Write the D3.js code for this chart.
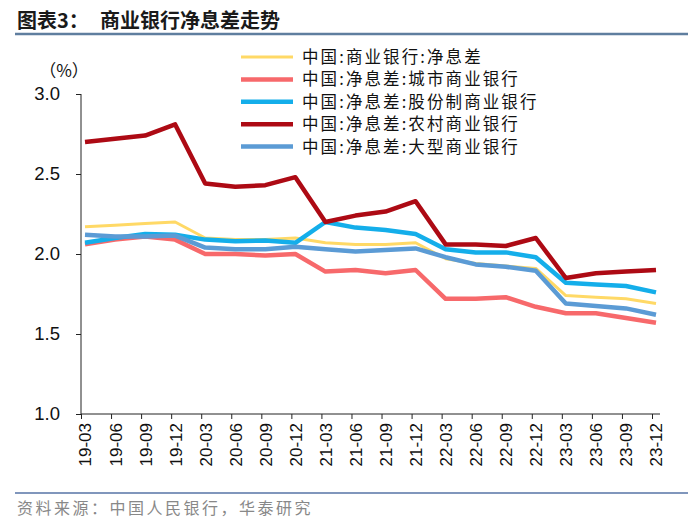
<!DOCTYPE html>
<html><head><meta charset="utf-8">
<script src="https://cdn.jsdelivr.net/npm/d3@7/dist/d3.min.js"></script>
<style>
html,body{margin:0;padding:0;background:#fff;}
svg{display:block;}
</style></head>
<body>
<svg id="chart" width="700" height="526"></svg>
<script>
const categories = ["19-03","19-06","19-09","19-12","20-03","20-06","20-09","20-12","21-03","21-06","21-09","21-12","22-03","22-06","22-09","22-12","23-03","23-06","23-09","23-12"];
const seriesNames = ["中国:商业银行:净息差","中国:净息差:城市商业银行","中国:净息差:股份制商业银行","中国:净息差:农村商业银行","中国:净息差:大型商业银行"];
const nimAll     = [2.17,2.18,2.19,2.20,2.10,2.09,2.09,2.10,2.07,2.06,2.06,2.07,1.97,1.94,1.925,1.91,1.74,1.73,1.72,1.69];
const nimCity    = [2.06,2.09,2.11,2.09,2.00,2.00,1.99,2.00,1.89,1.90,1.88,1.90,1.72,1.72,1.73,1.67,1.63,1.63,1.60,1.57];
const nimJoint   = [2.07,2.10,2.125,2.12,2.09,2.08,2.085,2.07,2.20,2.165,2.15,2.125,2.03,2.01,2.01,1.98,1.82,1.81,1.80,1.76];
const nimRural   = [2.70,2.72,2.74,2.81,2.44,2.42,2.43,2.48,2.20,2.24,2.265,2.33,2.06,2.06,2.05,2.10,1.85,1.88,1.89,1.90];
const nimLarge   = [2.12,2.11,2.11,2.115,2.04,2.03,2.03,2.045,2.03,2.015,2.025,2.035,1.98,1.935,1.92,1.895,1.69,1.675,1.66,1.62];
const yTicks = [1.0,1.5,2.0,2.5,3.0];

const seriesValues = [nimAll, nimCity, nimJoint, nimRural, nimLarge];
const colors = ["#FFD966","#F7696B","#14AEEA","#AD0A14","#5B9BD5"];
const widths = [3, 4.5, 4.5, 4.5, 4.5];

const svg = d3.select("#chart");
const axisFont = "'Liberation Sans', Arial, sans-serif";
const cjkFont = "'Noto Sans CJK SC', sans-serif";

// Title
svg.append("text").attr("x",17).attr("y",28)
  .attr("font-family",cjkFont).attr("font-weight",700).attr("font-size",20).attr("fill","#1a1a1a")
  .text("图表3：");
svg.append("text").attr("x",100).attr("y",28)
  .attr("font-family",cjkFont).attr("font-weight",700).attr("font-size",20).attr("fill","#1a1a1a")
  .text("商业银行净息差走势");
svg.append("line").attr("x1",15).attr("x2",688).attr("y1",34).attr("y2",34)
  .attr("stroke","#5f7e9f").attr("stroke-width",2.5);

// Footer
svg.append("line").attr("x1",15).attr("x2",688).attr("y1",493).attr("y2",493)
  .attr("stroke","#5673a6").attr("stroke-width",1.5);
svg.append("text").attr("x",17).attr("y",514)
  .attr("font-family",cjkFont).attr("font-size",16).attr("letter-spacing",2.5).attr("fill","#888")
  .text("资料来源：中国人民银行，华泰研究");

// Scales
const x = d3.scalePoint().domain(categories).range([85,656]);
const y = d3.scaleLinear().domain([1.0,3.0]).range([414,94]);

// Y axis
const yAxis = svg.append("g").attr("transform","translate(81,0)")
  .call(d3.axisLeft(y).tickValues(yTicks).tickFormat(d3.format(".1f")).tickSize(5).tickPadding(4));
yAxis.select(".domain").attr("stroke","#222").attr("d","M0,94V414");
yAxis.selectAll(".tick line").attr("stroke","#222");
yAxis.selectAll(".tick text").attr("font-family",axisFont).attr("font-size",18.5).attr("fill","#111").attr("x",-21);

svg.append("text").attr("x",64).attr("y",77).attr("text-anchor","middle")
  .attr("font-family",cjkFont).attr("font-size",17).attr("fill","#111").text("（%）");

// X axis
const xAxis = svg.append("g").attr("transform","translate(0,414)")
  .call(d3.axisBottom(x).tickSize(5).tickSizeOuter(0));
xAxis.select(".domain").attr("stroke","#222").attr("d","M81,0H660");
xAxis.selectAll(".tick line").attr("stroke","#222").attr("transform","translate(-4,0)");
xAxis.selectAll(".tick text")
  .attr("font-family",axisFont).attr("font-size",17).attr("fill","#111")
  .attr("transform","rotate(-90)")
  .attr("text-anchor","end").attr("dy","0.35em").attr("x",-9).attr("y",0);

// Lines
const line = d3.line().x((d,i)=>x(categories[i])).y(d=>y(d));
seriesValues.forEach((vals,k)=>{
  svg.append("path").datum(vals).attr("d",line)
    .attr("fill","none").attr("stroke",colors[k]).attr("stroke-width",widths[k])
    .attr("stroke-linejoin","round");
});

// Legend
const lg = svg.append("g");
seriesNames.forEach((name,k)=>{
  const yy = 57 + k*22.4;
  lg.append("line").attr("x1",241).attr("x2",293).attr("y1",yy).attr("y2",yy)
    .attr("stroke",colors[k]).attr("stroke-width",widths[k]);
  lg.append("text").attr("x",302).attr("y",yy).attr("dy","0.36em")
    .attr("font-family",cjkFont).attr("font-size",16.5).attr("letter-spacing",2.1).attr("fill","#111")
    .text(name);
});
</script>
</body></html>
